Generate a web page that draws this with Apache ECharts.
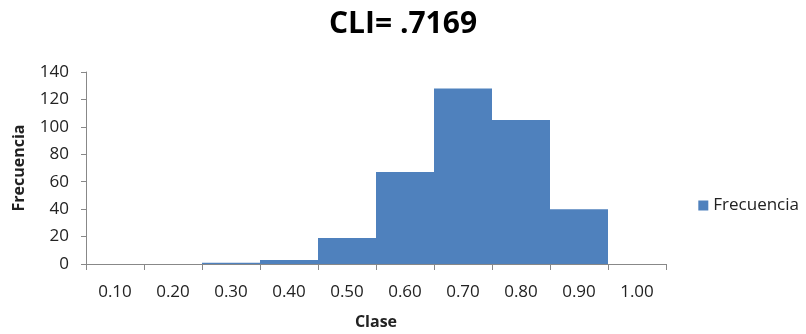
<!DOCTYPE html>
<html><head><meta charset="utf-8">
<script src="https://cdn.jsdelivr.net/npm/echarts@6/dist/echarts.min.js"></script>
<style>html,body{margin:0;padding:0;background:#fff}#c{width:806px;height:334px}</style>
</head><body><div id="c"></div>
<script>
const categories = ['0.10','0.20','0.30','0.40','0.50','0.60','0.70','0.80','0.90','1.00'];
const frecuencia = [0, 0, 1, 3, 19, 67, 128, 105, 40, 0];
const titleText = 'CLI= .7169';
const seriesName = 'Frecuencia';
const xName = 'Clase';
const yName = 'Frecuencia';
const font = '"Open Sans", "Noto Sans", sans-serif';
const chart = echarts.init(document.getElementById('c'), null, {renderer:'canvas'});
chart.setOption({
  animation:false,
  title:{text:titleText,left:'center',top:4,textStyle:{fontFamily:font,fontSize:30,fontWeight:'bold',color:'#000'}},
  legend:{data:[seriesName],right:2,top:192,itemWidth:10,itemHeight:10,itemGap:6,icon:'rect',
    textStyle:{fontFamily:font,fontSize:17,color:'#222'}},
  grid:{left:86,right:140,top:72,bottom:70,containLabel:false,outerBoundsMode:'none'},
  xAxis:{type:'category',data:categories,name:xName,nameLocation:'middle',nameGap:50,
    nameTextStyle:{fontFamily:font,fontSize:16,fontWeight:'bold',color:'#222'},
    axisLine:{lineStyle:{color:'#888'}},axisTick:{show:true,length:6,lineStyle:{color:'#888'}},
    axisLabel:{fontFamily:font,fontSize:17,color:'#222',margin:20},splitLine:{show:false}},
  yAxis:{type:'value',min:0,max:140,interval:20,name:yName,nameLocation:'middle',nameGap:59,
    nameTextStyle:{fontFamily:font,fontSize:16,fontWeight:'bold',color:'#222'},
    axisLine:{show:true,lineStyle:{color:'#888'}},axisTick:{show:true,length:5,lineStyle:{color:'#888'}},
    axisLabel:{fontFamily:font,fontSize:17,color:'#222',margin:17},splitLine:{show:false}},
  series:[{name:seriesName,type:'bar',data:frecuencia,barCategoryGap:'0%',
    itemStyle:{color:'#4F81BD'}}]
});
</script></body></html>
